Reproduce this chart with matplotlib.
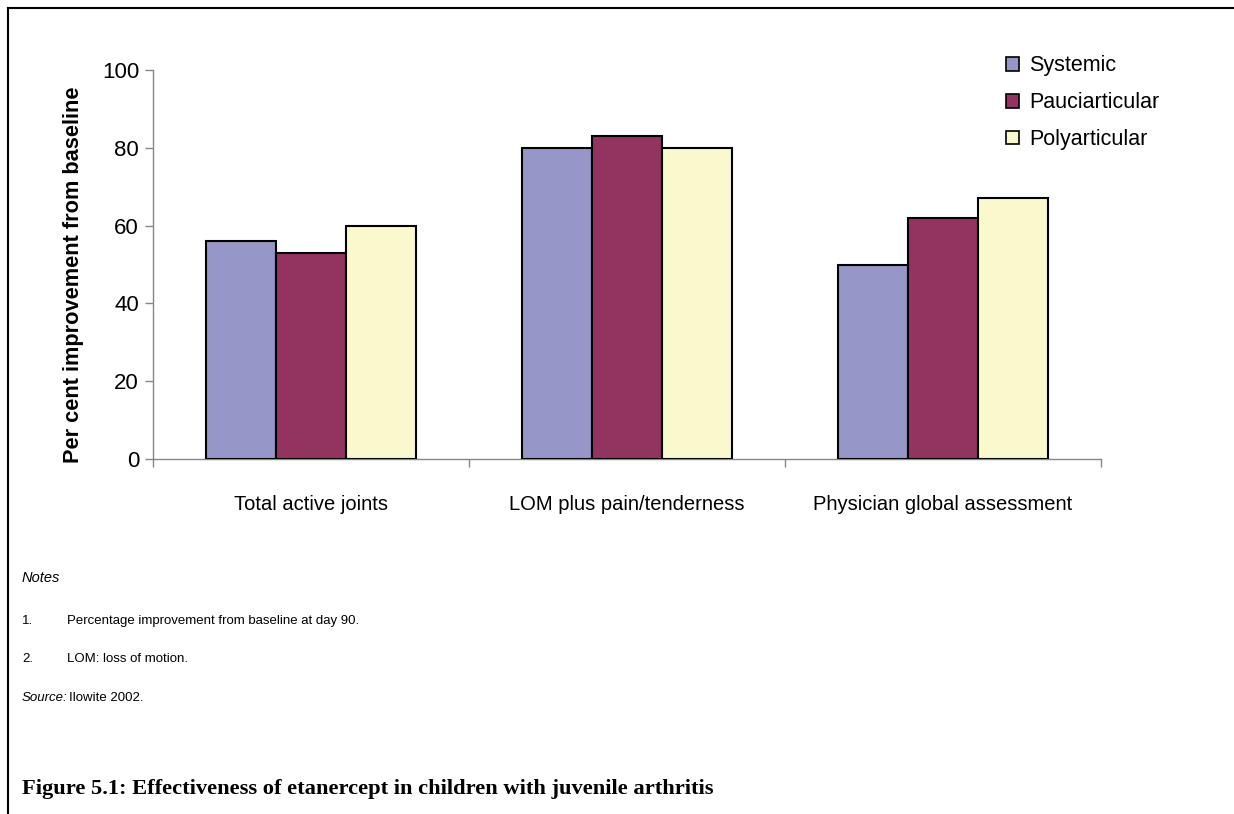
import matplotlib.pyplot as plt
import numpy as np
from matplotlib.patches import Patch
from matplotlib.lines import Line2D

# outcome measures and improvement (%) per JRA onset type
categories = ["Total active joints", "LOM plus pain/tenderness", "Physician global assessment"]
series = ["Systemic", "Pauciarticular", "Polyarticular"]
systemic = [56, 80, 50]
pauciarticular = [53, 83, 62]
polyarticular = [60, 80, 67]
colors = ["#9696C8", "#933360", "#FAF8CD"]

plt.rcParams["font.family"] = ["Liberation Sans", "DejaVu Sans"]

fig = plt.figure(figsize=(12.34, 8.14), dpi=100)
ax = fig.add_axes([153 / 1234, 1 - 459 / 814, (1101 - 153) / 1234, (459 - 70) / 814])

x = np.arange(len(categories))
w = 0.2215
for i, (vals, name) in enumerate(zip([systemic, pauciarticular, polyarticular], series)):
    ax.bar(x + (i - 1) * w, vals, width=w, color=colors[i], edgecolor="black",
           linewidth=1.5, label=name, zorder=3)

ax.set_xlim(-0.5, len(categories) - 0.5)
ax.set_ylim(0, 100)
ax.set_yticks(np.arange(0, 101, 20))
ax.tick_params(axis="y", labelsize=16, length=6, width=1, color="#868686", pad=4)

# category labels between boundary ticks
ax.set_xticks(x)
ax.set_xticklabels(categories, fontsize=14.5)
ax.set_xticks(np.arange(-0.5, len(categories), 1), minor=True)
ax.tick_params(axis="x", which="major", length=0, pad=26)
ax.tick_params(axis="x", which="minor", length=6, width=1, color="#868686")

for s in ["top", "right"]:
    ax.spines[s].set_visible(False)
for s in ["left", "bottom"]:
    ax.spines[s].set_color("#868686")
    ax.spines[s].set_linewidth(1)

ax.set_ylabel("Per cent improvement from baseline", fontsize=15.7, fontweight="bold")
ax.yaxis.set_label_coords(-0.073, 0.473)

handles = [Patch(facecolor=c, edgecolor="black", linewidth=1.2) for c in colors]
fig.legend(handles, series, loc="upper left", bbox_to_anchor=(987 / 1234, 1 - 36 / 814),
           frameon=False, fontsize=15.5, handlelength=0.6, handleheight=0.6,
           handletextpad=0.45, labelspacing=0.74)

# notes under the chart
fig.text(22 / 1234, 1 - 578 / 814, "Notes", fontsize=10.5, style="italic", va="center")
fig.text(22 / 1234, 1 - 621 / 814, "1.", fontsize=9.5, va="center")
fig.text(67 / 1234, 1 - 621 / 814, "Percentage improvement from baseline at day 90.", fontsize=9.5, va="center")
fig.text(22 / 1234, 1 - 659 / 814, "2.", fontsize=9.5, va="center")
fig.text(67 / 1234, 1 - 659 / 814, "LOM: loss of motion.", fontsize=9.5, va="center")
fig.text(22 / 1234, 1 - 698 / 814, "Source:", fontsize=9.5, style="italic", va="center")
fig.text(69 / 1234, 1 - 698 / 814, "Ilowite 2002.", fontsize=9.5, va="center")

fig.text(22 / 1234, 1 - 789 / 814, "Figure 5.1: Effectiveness of etanercept in children with juvenile arthritis",
         fontsize=16.2, fontweight="bold", family="Liberation Serif", va="center")

# page frame: top and left rules
fig.add_artist(Line2D([8 / 1234, 1], [1 - 8 / 814, 1 - 8 / 814], color="black", lw=1.5,
                      transform=fig.transFigure))
fig.add_artist(Line2D([8 / 1234, 8 / 1234], [1 - 8 / 814, 0], color="black", lw=1.5,
                      transform=fig.transFigure))

fig.savefig("out.png", dpi=100)
